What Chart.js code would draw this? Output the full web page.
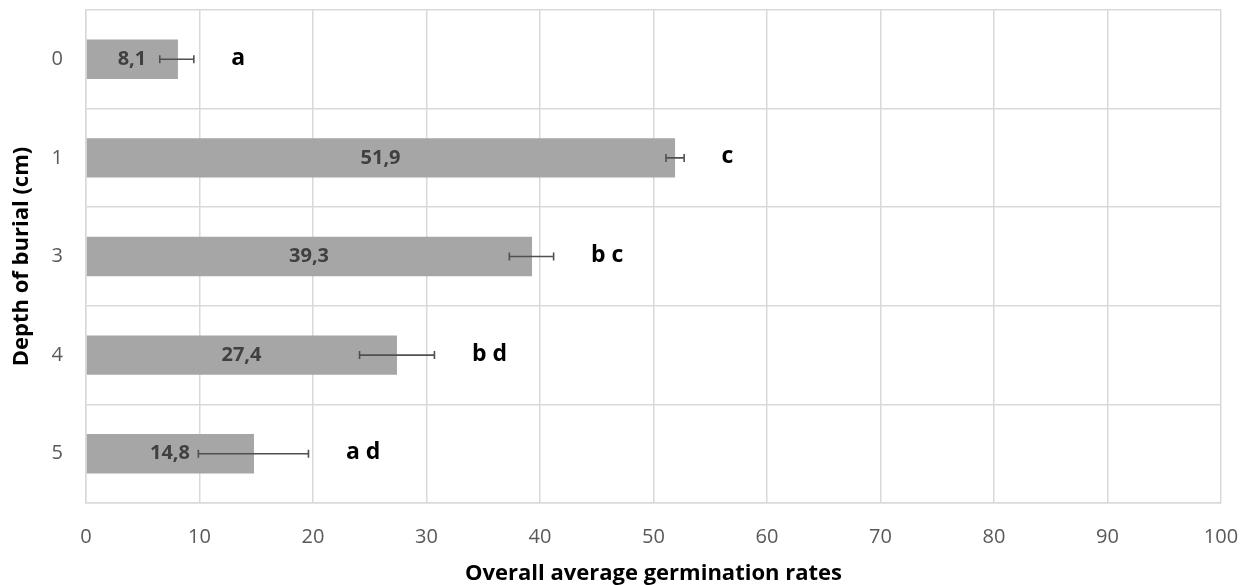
<!DOCTYPE html>
<html lang="en">
<head>
    <meta charset="UTF-8">
    <title>Germination by depth of burial</title>
    <script src="https://cdn.jsdelivr.net/npm/chart.js"></script>
    <style>
        html, body { margin: 0; padding: 0; background: #fff; }
        #wrap { width: 1246px; height: 585px; }
    </style>
</head>
<body>
<div id="wrap"><canvas id="germChart"></canvas></div>
<script>
    // Depth of burial (cm) and mean germination rate
    const depths = ['0', '1', '3', '4', '5'];
    const rates = [8.1, 51.9, 39.3, 27.4, 14.8];
    // Error bar ends (low / high)
    const errLow = [6.5, 51.1, 37.3, 24.1, 9.9];
    const errHigh = [9.5, 52.7, 41.2, 30.7, 19.6];
    // Significance letters
    const letters = ['a', 'c', 'b c', 'b d', 'a d'];

    const FONT = '"Open Sans", "DejaVu Sans", sans-serif';

    // Draws error bars, value labels in the bars and the letters
    const barExtras = {
        id: 'barExtras',
        afterDatasetsDraw(chart) {
            const ctx = chart.ctx;
            const xs = chart.scales.x;
            const bars = chart.getDatasetMeta(0).data;
            ctx.save();
            bars.forEach((bar, i) => {
                const y = bar.y;
                // value label, centred in the bar
                ctx.font = 'bold 20px ' + FONT;
                ctx.fillStyle = '#404040';
                ctx.textAlign = 'center';
                ctx.textBaseline = 'middle';
                ctx.fillText(rates[i].toFixed(1).replace('.', ','), (xs.getPixelForValue(0) + bar.x) / 2, y);

                // error bar
                const x1 = xs.getPixelForValue(errLow[i]);
                const x2 = xs.getPixelForValue(errHigh[i]);
                ctx.strokeStyle = '#505050';
                ctx.lineWidth = 1.6;
                ctx.beginPath();
                ctx.moveTo(x1, y); ctx.lineTo(x2, y);
                ctx.moveTo(x1, y - 4); ctx.lineTo(x1, y + 4);
                ctx.moveTo(x2, y - 4); ctx.lineTo(x2, y + 4);
                ctx.stroke();

                // letters
                ctx.font = 'bold 23px ' + FONT;
                ctx.fillStyle = '#000';
                ctx.textAlign = 'left';
                ctx.fillText(letters[i], xs.getPixelForValue(errHigh[i] + 3.3), y - 1);
            });
            ctx.restore();
        }
    };

    new Chart(document.getElementById('germChart'), {
        type: 'bar',
        data: {
            labels: depths,
            datasets: [{
                data: rates,
                backgroundColor: '#a6a6a6',
                borderWidth: 0,
                barPercentage: 0.4,
                categoryPercentage: 1
            }]
        },
        options: {
            indexAxis: 'y',
            responsive: true,
            maintainAspectRatio: false,
            animation: false,
            layout: { padding: { top: 10, right: 25, left: 0, bottom: 0 } },
            plugins: {
                legend: { display: false },
                tooltip: { enabled: false }
            },
            scales: {
                x: {
                    min: 0,
                    max: 100,
                    ticks: { stepSize: 10, color: '#595959', padding: 0, font: { family: FONT, size: 20, lineHeight: 1 } },
                    grid: { color: '#d9d9d9', lineWidth: 1.5, tickLength: 24, tickColor: 'rgba(0,0,0,0)' },
                    border: { color: '#d9d9d9', width: 1.5 },
                    title: {
                        display: true,
                        text: 'Overall average germination rates',
                        color: '#000',
                        font: { family: FONT, size: 22, weight: 'bold', lineHeight: 1 },
                        padding: { top: 0, bottom: 0 }
                    },
                    afterFit(scale) { scale.height = 82; }
                },
                y: {
                    ticks: { color: '#595959', padding: 0, font: { family: FONT, size: 20, lineHeight: 1 } },
                    grid: { color: '#d9d9d9', lineWidth: 1.5, tickLength: 23, tickColor: 'rgba(0,0,0,0)' },
                    border: { color: '#d9d9d9', width: 1.5 },
                    title: {
                        display: true,
                        text: 'Depth of burial (cm)',
                        color: '#000',
                        font: { family: FONT, size: 22, weight: 'bold', lineHeight: 1 },
                        padding: { top: 11, bottom: 0 }
                    },
                    afterFit(scale) { scale.width = 86; }
                }
            }
        },
        plugins: [barExtras]
    });
</script>
</body>
</html>
